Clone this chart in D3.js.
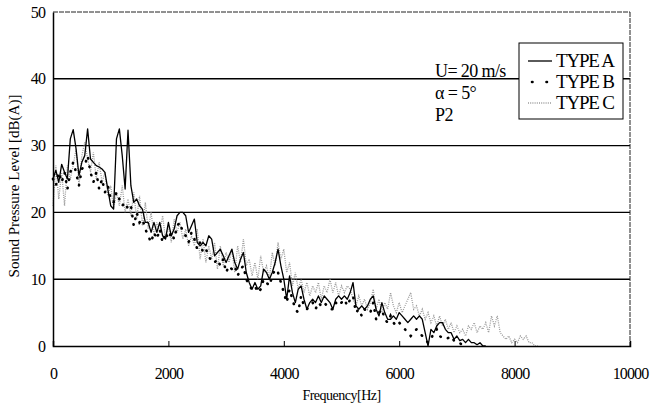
<!DOCTYPE html>
<html>
<head>
<meta charset="utf-8">
<script src="https://cdn.jsdelivr.net/npm/d3@7"></script>
<style>
  body { margin: 0; background: #fff; }
  text { font-family: "Liberation Serif", "Times New Roman", serif; fill: #000; }
</style>
</head>
<body>
<div id="chart"></div>
<script>
// spectrum bins, 50 Hz apart, starting at 0 Hz
const binHz = 50;
const typeA = [25, 26.3, 24.5, 27.2, 26, 25, 31, 32.4, 29.5, 25.5, 27.5, 28.5, 32.5, 28, 27.5, 27, 26.8, 26.5, 26, 23.5,
  21, 20.5, 31, 32.5, 28.5, 23.5, 32.3, 24, 21.5, 22, 21, 20.5, 18.5, 18.5, 17, 18.5, 17, 18.5, 16.5, 16,
  18.5, 16.5, 17.5, 19.5, 20, 20, 19.5, 17, 18, 19, 15.5, 15, 15.5, 15, 16.5, 16, 13.5, 14, 14.5, 13.5,
  12.5, 13.5, 14.5, 12.5, 11.5, 13, 14, 11, 9.5, 8.5, 9.5, 8.5, 9, 11.5, 11, 10, 11, 12.5, 14.5, 12,
  10, 7, 10.5, 8, 6.5, 8.5, 9, 7, 5.5, 6.5, 7, 6.5, 7.5, 6.5, 7.5, 7, 6.5, 5.5, 7, 7.5,
  7, 7.5, 7, 8, 9.5, 6, 5.5, 6, 5.5, 6, 7, 7.5, 5.5, 4.5, 6.5, 5, 4, 4, 4.5, 4,
  5, 4.5, 4, 3.5, 4, 4.5, 4, 4.5, 4, 2, 0, 2.5, 2, 3, 3.5, 3.5, 2.5, 2, 2, 1,
  1.5, 0.8, 1, 0.5, 1, 0.5, 0.5, 0.2, 0.5, 0, 0];
const typeB = [25, 24, 26, 24.5, 26, 23.5, 26, 27.5, 26, 24, 26.5, 27, 28.5, 26, 24.5, 26, 23.5, 25, 23, 24,
  22, 21.5, 23, 22, 21, 21.5, 20.5, 21, 18, 20, 18.5, 19, 17.5, 16.5, 15.5, 17, 16, 17.5, 15.5, 17,
  16, 17, 16, 18, 18.5, 17, 16.5, 15.5, 17, 16, 14.5, 15.5, 14, 14.5, 13.5, 12.5, 12.5, 13, 12, 13,
  11, 12, 11.5, 12, 10.5, 11.5, 12, 10, 9, 8.5, 9, 8, 8.5, 10, 9.5, 9, 10.5, 11.5, 11, 9.5,
  8, 6.5, 8.5, 7, 5.5, 5, 7.5, 6, 5.5, 6, 6.5, 5.5, 6.5, 6, 6.5, 6, 5.5, 5.5, 6.5, 6,
  6.5, 7, 6, 7, 7.5, 5, 5.5, 4.5, 5.5, 5, 5, 6.5, 4, 5, 5.5, 4, 3.5, 4.5, 3.5, 3,
  3.5, 3, 2.5, 2, 1.5, 2, 2.5, 2, 1.5, 1, 0.5, 1, 2, 2.5, 1.5, 1.2, 1, 1.2, 1.5, 0.8,
  0.5, 0.5, 0];
const typeC = [21, 27, 22, 26, 21, 27, 25, 27, 29.5, 24, 28.5, 30.5, 28, 26, 29, 25, 27.5, 24.5, 26, 22.5,
  24, 20.5, 23, 21, 24, 20, 22, 19.5, 23, 19, 22.5, 18, 21.5, 17.5, 20, 16.5, 18.5, 17, 19.5, 16,
  18, 15.5, 19, 17, 18.5, 16, 17.5, 15, 16.5, 15, 17.5, 13, 16, 12.5, 15, 13, 15.5, 11.5, 15, 12,
  14, 12.5, 14.5, 11, 15, 12.5, 16, 12, 13, 10.5, 12.5, 10, 13.5, 11, 12, 10, 14, 12, 15.5, 13,
  14.5, 11, 12.5, 9, 11, 8.5, 10, 8, 9.5, 7.5, 9, 8, 9.5, 7, 9, 8, 10, 8, 9.5, 7.5,
  9, 8, 9, 8.5, 7, 6, 7.5, 6, 7, 5.5, 6.5, 8.5, 5.5, 7, 5, 6.5, 5.5, 8, 6, 5,
  6.5, 5, 6, 7, 8, 5.5, 6, 4.5, 5.5, 4, 5, 3.5, 4.5, 3, 4.5, 3, 4, 2.5, 3.5, 2,
  3, 2, 2.5, 1.5, 3, 2.5, 3.5, 2, 3, 2.5, 3.5, 2, 4.5, 3, 4.5, 2, 1.5, 1, 1.5, 0.5,
  1, 0.5, 1.5, 1, 1.5, 0.5, 0.5, 0, 0];

const xTicks = [0, 2000, 4000, 6000, 8000, 10000];
const yTicks = [0, 10, 20, 30, 40, 50];
const seriesNames = ["TYPE A", "TYPE B", "TYPE C"];
const notes = ["U= 20 m/s", "\u03b1  = 5\u00b0", "P2"];

const W = 664, H = 408;
const m = { left: 53, top: 12, right: 34, bottom: 62 };

const svg = d3.select("#chart")
  .append("svg")
  .attr("width", W)
  .attr("height", H);

const x = d3.scaleLinear().domain([0, 10000]).range([m.left, W - m.right]);
const y = d3.scaleLinear().domain([0, 50]).range([H - m.bottom, m.top]);

// horizontal grid
svg.selectAll("line.grid")
  .data(yTicks.filter(d => d > 0 && d < 50))
  .enter().append("line")
  .attr("class", "grid")
  .attr("x1", x(0)).attr("x2", x(10000))
  .attr("y1", d => y(d)).attr("y2", d => y(d))
  .attr("stroke", "#000")
  .attr("stroke-width", 1.4);

// frame: top and right look thin/broken in the scan
svg.append("line")
  .attr("x1", x(0)).attr("x2", x(10000)).attr("y1", y(50)).attr("y2", y(50))
  .attr("stroke", "#222").attr("stroke-width", 1).attr("stroke-dasharray", "5,1");
svg.append("line")
  .attr("x1", x(10000)).attr("x2", x(10000)).attr("y1", y(50)).attr("y2", y(0))
  .attr("stroke", "#222").attr("stroke-width", 1).attr("stroke-dasharray", "5,1");

const line = d3.line()
  .x((d, i) => x(i * binHz))
  .y(d => y(d));

svg.append("path")
  .datum(typeC)
  .attr("d", line)
  .attr("fill", "none")
  .attr("stroke", "#9a9a9a")
  .attr("stroke-width", 1.3)
  .attr("stroke-dasharray", "1,1.2");

svg.append("path")
  .datum(typeA)
  .attr("d", line)
  .attr("fill", "none")
  .attr("stroke", "#000")
  .attr("stroke-width", 1.3)
  .attr("stroke-linejoin", "round");

svg.append("path")
  .datum(typeB)
  .attr("d", line)
  .attr("fill", "none")
  .attr("stroke", "#000")
  .attr("stroke-width", 2.6)
  .attr("stroke-linecap", "round")
  .attr("stroke-dasharray", "0.5,8");

// axes
const xAxis = d3.axisBottom(x).tickValues(xTicks).tickFormat(d3.format("d")).tickSize(-5).tickPadding(22);
const gx = svg.append("g")
  .attr("transform", `translate(0,${y(0)})`)
  .call(xAxis);
gx.select(".domain").attr("stroke-width", 1.5);
gx.selectAll(".tick line").filter(d => d === 0 || d === 10000).remove();
gx.selectAll("text")
  .attr("font-size", 16)
  .attr("letter-spacing", "-0.9px")
  .attr("fill", "#000");

const yAxis = d3.axisLeft(y).tickValues(yTicks).tickSize(0).tickPadding(8);
const gy = svg.append("g")
  .attr("transform", `translate(${x(0)},0)`)
  .call(yAxis);
gy.select(".domain").attr("stroke-width", 1.5);
gy.selectAll("text")
  .attr("font-size", 16)
  .attr("letter-spacing", "-0.9px")
  .attr("fill", "#000");
svg.selectAll("g.tick text").style("font-family", '"Liberation Serif", serif');

svg.append("text")
  .attr("x", (x(0) + x(10000)) / 2)
  .attr("y", 400)
  .attr("text-anchor", "middle")
  .attr("font-size", 14)
  .attr("letter-spacing", "-0.5px")
  .text("Frequency[Hz]");

svg.append("text")
  .attr("transform", `translate(19,186) rotate(-90)`)
  .attr("text-anchor", "middle")
  .attr("font-size", 15)
  .text("Sound Pressure Level [dB(A)]");

// condition notes
svg.selectAll("text.note")
  .data(notes)
  .enter().append("text")
  .attr("class", "note")
  .attr("x", 435)
  .attr("y", (d, i) => 77 + i * 22)
  .attr("font-size", 18)
  .attr("letter-spacing", "-0.6px")
  .text(d => d);

// legend
const lg = svg.append("g").attr("transform", "translate(519,43)");
lg.append("rect")
  .attr("width", 104).attr("height", 76)
  .attr("fill", "#fff")
  .attr("stroke", "#000").attr("stroke-width", 1);
const rows = lg.selectAll("g.row")
  .data(seriesNames)
  .enter().append("g")
  .attr("class", "row")
  .attr("transform", (d, i) => `translate(0,${18 + i * 21})`);
rows.append("line")
  .attr("x1", 9).attr("x2", 33).attr("y1", 0).attr("y2", 0)
  .attr("stroke", (d, i) => i === 2 ? "#9a9a9a" : "#000")
  .attr("stroke-width", (d, i) => i === 1 ? 2.6 : 1.3)
  .attr("stroke-linecap", (d, i) => i === 1 ? "round" : "butt")
  .attr("stroke-dasharray", (d, i) => i === 0 ? null : (i === 1 ? "0.5,14" : "1,1.2"))
  .attr("transform", (d, i) => i === 1 ? "translate(4,0)" : null);
rows.append("text")
  .attr("x", 37).attr("y", 6)
  .attr("font-size", 19)
  .attr("letter-spacing", "-1.2px")
  .text(d => d);
</script>
</body>
</html>
